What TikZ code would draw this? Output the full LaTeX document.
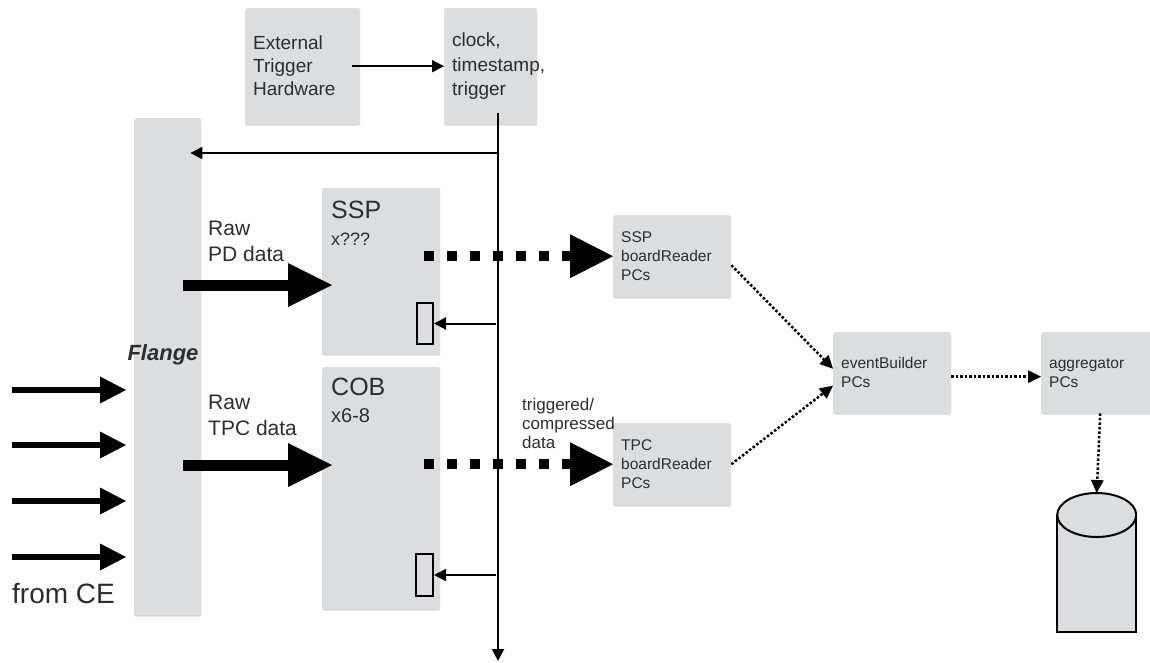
\documentclass[tikz,border=0pt]{standalone}
\usepackage{fontspec}
\setmainfont{Liberation Sans}
\usetikzlibrary{arrows.meta,shadows}
\definecolor{boxgray}{RGB}{220,221,223}
\definecolor{inkgray}{RGB}{45,45,45}

\begin{document}
\begin{tikzpicture}[x=1pt,y=-1pt,
    box/.style={fill=boxgray,rounded corners=2pt,anchor=north west,inner xsep=8pt,inner ysep=0pt,
      align=left,text=inkgray,drop shadow={shadow xshift=0pt,shadow yshift=-1.3pt,opacity=0.35,fill=black!45}},
    latch/.style={draw,line width=2pt,inner sep=0pt,anchor=north west},
    label/.style={anchor=base west,inner sep=0pt,align=left,text=inkgray},
    thin arrow/.style={line width=2pt,-{Triangle[length=12pt,width=12pt]}},
    fat arrow/.style={line width=11pt,-{Triangle[length=44pt,width=44pt,line width=0pt]}},
    in arrow/.style={line width=6pt,-{Triangle[length=26pt,width=27pt,line width=0pt]}},
    data arrow/.style={line width=10pt,dash pattern=on 10pt off 13pt,-{Triangle[length=43pt,width=44pt,line width=0pt]}},
    pc arrow/.style={line width=2.5pt,dash pattern=on 2.5pt off 2pt,-{Triangle[length=13pt,width=13pt,line width=0pt]}}]
  \useasboundingbox (0,0) rectangle (1150,662);
  \def\bigfont{\fontsize{19}{23}\selectfont}
  \def\pcfont{\fontsize{15.5}{19}\selectfont}

  % trigger side
  \node[box,font=\bigfont,text width=99pt,minimum height=116pt] (ext) at (245,8) {External\\Trigger\\Hardware};
  \node[box,font=\fontsize{19}{24.5}\selectfont,text width=77pt,minimum height=116pt] (clk) at (444,8) {clock,\\timestamp,\\trigger};
  \draw[thin arrow] ([xshift=-8pt]ext.east) -- (clk.west);

  % flange and inputs
  \node[box,minimum width=67pt,minimum height=497pt] (flange) at (134,118) {};
  \node[text=inkgray,font=\fontsize{22}{26}\selectfont\bfseries\itshape,inner sep=0pt] (flangelbl) at (163,355) {Flange};
  \foreach \y in {390,445,501,557}{%
    \coordinate (ce\y) at (12,\y);
    \draw[in arrow] (ce\y) -- ([xshift=-8pt]flange.west |- ce\y);
  }
  \node[label,font=\fontsize{28}{30}\selectfont] (fromce) at (12,603) {from CE};

  % readout boards
  \node[box,minimum width=118pt,minimum height=166pt] (ssp) at (322,188) {};
  \node[label,font=\fontsize{25}{28}\selectfont] (ssptitle) at (331,218) {SSP};
  \node[label,font=\fontsize{18}{20}\selectfont] (sspcount) at (331,245) {x???};
  \node[box,minimum width=118pt,minimum height=242pt] (cob) at (322,367) {};
  \node[label,font=\fontsize{25}{28}\selectfont] (cobtitle) at (331,395) {COB};
  \node[label,font=\fontsize{20}{22}\selectfont] (cobcount) at (331,422) {x6-8};
  \node[latch,minimum width=16pt,minimum height=41pt] (ssplatch) at (416,302) {};
  \node[latch,minimum width=17pt,minimum height=42pt] (coblatch) at (415,553) {};

  \node[label,font=\fontsize{21}{26}\selectfont] (pdlbl) at (208,261) {Raw\\PD data};
  \node[label,font=\fontsize{21}{26}\selectfont] (tpclbl) at (208,435) {Raw\\TPC data};
  \draw[fat arrow] ([xshift=-18pt]flange.east |- 0,285) -- ([xshift=10pt]ssp.west |- 0,285);
  \draw[fat arrow] ([xshift=-18pt]flange.east |- 0,465) -- ([xshift=10pt]cob.west |- 0,465);

  % clock / trigger bus
  \coordinate (bustop) at (498,113);
  \coordinate (busend) at (498,661);
  \draw[thin arrow] (bustop) -- (busend);
  \draw[thin arrow] (bustop |- 0,153) -- ([xshift=-11pt]flange.east |- 0,153);
  \draw[thin arrow] ([xshift=-2pt]bustop |- ssplatch.east) -- (ssplatch.east);
  \draw[thin arrow] ([xshift=-2pt]bustop |- coblatch.east) -- (coblatch.east);

  % DAQ PCs
  \node[box,font=\pcfont,text width=102pt,minimum height=82pt] (sspbr) at (613,215) {SSP\\boardReader\\PCs};
  \node[box,font=\pcfont,text width=102pt,minimum height=82pt] (tpcbr) at (613,423) {TPC\\boardReader\\PCs};
  \node[box,font=\pcfont,text width=102pt,minimum height=81pt] (evb) at (833,332) {eventBuilder\\PCs};
  \node[box,font=\pcfont,text width=102pt,minimum height=81pt] (agg) at (1041,332) {aggregator\\PCs};
  \node[anchor=north west,inner sep=0pt,align=left,text=inkgray,font=\fontsize{17}{19}\selectfont] (trig) at (522,398) {triggered/\\compressed\\data};

  \draw[data arrow] ([xshift=-16pt]ssp.east |- sspbr.west) -- (sspbr.west);
  \draw[data arrow] ([xshift=-16pt]cob.east |- tpcbr.west) -- (tpcbr.west);
  \draw[pc arrow] ([yshift=-9pt]sspbr.east) -- ([yshift=4pt]evb.west);
  \draw[pc arrow] (tpcbr.east) -- ([yshift=-13pt]evb.west);
  \draw[pc arrow] ([yshift=-4pt]evb.east) -- ([yshift=-4pt]agg.west);

  % storage
  \node[minimum width=79pt,minimum height=139pt,anchor=north west,inner sep=0pt] (disk) at (1057,493) {};
  \draw[line width=2pt,fill=boxgray] ([yshift=-22pt]disk.north west) -- (disk.south west) -- (disk.south east) -- ([yshift=-22pt]disk.north east);
  \draw[line width=2pt,fill=boxgray] ([yshift=-22pt]disk.north) ellipse [x radius=39.5pt,y radius=22pt];
  \draw[pc arrow] (agg.south) -- (disk.north);
\end{tikzpicture}
\end{document}
